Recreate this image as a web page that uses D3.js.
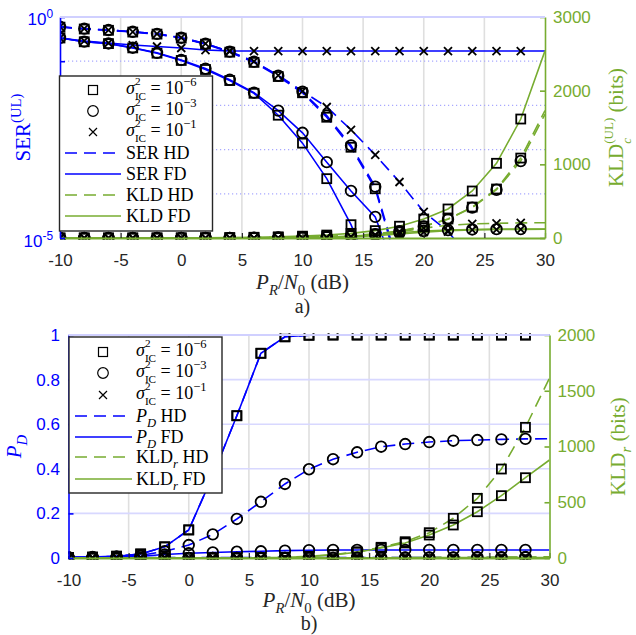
<!DOCTYPE html>
<html><head><meta charset="utf-8">
<script src="https://cdn.jsdelivr.net/npm/d3@7"></script>
<style>body{margin:0;background:#fff}</style>
</head><body><svg id="c" width="636" height="635"></svg>
<script>
// ---------------- data ----------------
const xdB = [-10,-8,-6,-4,-2,0,2,4,6,8,10,12,14,16,18,20,22,24,26,28,30];
const xTickVals = [-10,-5,0,5,10,15,20,25,30];

// Panel a) SER (UL), log axis
const serHD6 = [0.59,0.535,0.50,0.456,0.41,0.333,0.243,0.16,0.094,0.045,0.0193,0.0054,0.00113,1.3e-4,1.6e-6,1e-8,1e-8,1e-8,1e-8,1e-8,1e-8];
const serHD3 = [0.60,0.545,0.507,0.462,0.416,0.34,0.249,0.165,0.098,0.047,0.0203,0.0059,0.00124,1.45e-4,1.9e-6,1e-8,1e-8,1e-8,1e-8,1e-8,1e-8];
const serHD1 = [0.60,0.545,0.507,0.462,0.416,0.34,0.25,0.166,0.099,0.048,0.021,0.0092,0.0028,7.6e-4,1.85e-4,3.9e-5,1.4e-5,3e-6,1e-8,1e-8,1e-8];
const serFD6 = [0.335,0.275,0.25,0.2,0.152,0.104,0.065,0.0365,0.0188,0.006,0.0014,2.2e-4,2e-5,1e-6,1e-8,1e-8,1e-8,1e-8,1e-8,1e-8,1e-8];
const serFD3 = [0.336,0.277,0.252,0.202,0.155,0.107,0.068,0.038,0.0195,0.0076,0.0024,5.2e-4,1.16e-4,3e-5,1e-6,1e-8,1e-8,1e-8,1e-8,1e-8,1e-8];
const serFD1 = [0.335,0.287,0.258,0.232,0.215,0.199,0.179,0.171,0.17,0.17,0.17,0.17,0.17,0.17,0.17,0.17,0.17,0.17,0.17,0.17,0.17];
// Panel a) KLD_c (UL) in bits
const kldHD6 = [0,0,0,0,0,0,1,2,4,7,12,20,33,55,95,160,258,420,665,1085,1730];
const kldHD3 = [0,0,0,0,0,0,1,2,3,6,11,19,32,53,92,156,254,412,655,1045,1680];
const kldHD1 = [0,0,0,0,0,0,0,1,1,2,3,8,20,45,85,135,172,192,200,205,207];
const kldFD6 = [0,0,0,0,1,2,4,6,10,16,25,40,63,100,160,258,394,638,1014,1615,2540];
const kldFD3 = [0,0,0,0,0,0,1,1,2,3,5,12,25,45,72,95,108,116,120,121,122];
const kldFD1 = [0,0,0,0,0,0,0,1,1,2,3,8,15,30,55,80,100,110,115,117,118];

// Panel b) P_D
const pdHD6 = [0.002,0.004,0.008,0.018,0.05,0.126,0.37,0.638,0.918,0.992,0.999,1,1,1,1,1,1,1,1,1,1];
const pdFD6 = [0.002,0.004,0.008,0.018,0.05,0.126,0.37,0.638,0.918,0.992,0.999,1,1,1,1,1,1,1,1,1,1];
const pdHD3 = [0.002,0.003,0.006,0.012,0.03,0.058,0.106,0.175,0.252,0.332,0.398,0.443,0.474,0.499,0.511,0.52,0.526,0.529,0.532,0.534,0.535];
const pdFD3 = [0.004,0.005,0.006,0.008,0.016,0.021,0.025,0.028,0.03,0.033,0.035,0.036,0.036,0.036,0.036,0.036,0.036,0.036,0.036,0.036,0.036];
const pdHD1 = [0.002,0.002,0.002,0.002,0.002,0.002,0.002,0.002,0.002,0.002,0.002,0.002,0.002,0.002,0.002,0.002,0.002,0.002,0.002,0.002,0.002];
const pdFD1 = [0.001,0.001,0.001,0.001,0.001,0.001,0.001,0.001,0.001,0.001,0.001,0.001,0.001,0.001,0.001,0.001,0.001,0.001,0.001,0.001,0.001];
// Panel b) KLD_r in bits
const kldrHD6 = [0,0,0,0,0,0,0,1,3,6,15,30,55,96,146,227,356,535,798,1172,1614];
const kldrFD6 = [0,0,0,0,0,0,0,1,3,6,14,28,52,90,135,206,296,415,559,720,879];
const kldrHD3 = [0,0,0,0,0,0,0,0,0,0,1,1,2,3,4,5,6,7,8,9,10];
const kldrFD3 = [0,0,0,0,0,0,0,0,0,0,0,1,1,2,2,3,3,4,4,5,5];
const kldrHD1 = [0,0,0,0,0,0,0,0,0,0,0,0,1,1,1,2,2,2,3,3,3];
const kldrFD1 = [0,0,0,0,0,0,0,0,0,0,0,0,0,1,1,1,1,1,2,2,2];

const serTicks = [1,1e-1,1e-2,1e-3,1e-4,1e-5];
const kldcTicks = [0,1000,2000,3000];
const pdTicks = [0,0.2,0.4,0.6,0.8,1];
const pdTickLabels = ['0','0.2','0.4','0.6','0.8','1'];
const kldrTicks = [0,500,1000,1500,2000];

// ---------------- style ----------------
const SERIF = "'Liberation Serif','Times New Roman',serif";
const SANS = "'Liberation Sans',Arial,Helvetica,sans-serif";
const BLUE = '#0000ff', GREEN = '#77ac30', DARK = '#262626';
const NB = '\u00a0';

const svg = d3.select('#c');
const defs = svg.append('defs');

function rich(parent, segs, o) {
  const size = o.size, fam = o.family || SERIF;
  const outer = parent.append('g').attr('transform', `translate(${o.x},${o.y})` + (o.rotate ? ` rotate(${o.rotate})` : ''));
  const inner = outer.append('g');
  let cx = 0, keptW = null;
  segs.forEach(s => {
    const small = s.sup || s.sub;
    const fs = small ? size * (s.stackSmall ? 0.62 : 0.7) : size;
    const dy = s.sup ? -size * (s.stackSmall ? 0.5 : 0.42) : (s.sub ? size * (s.stackSmall ? 0.36 : 0.27) : 0);
    const t = inner.append('text').attr('x', cx).attr('y', dy)
      .attr('font-family', fam).attr('font-size', fs)
      .attr('font-style', s.it ? 'italic' : 'normal')
      .attr('fill', o.fill || '#000').text(s.t.replace(/ /g, NB));
    const w = t.node().getComputedTextLength();
    if (s.keep) { keptW = w; }
    else { cx += (keptW !== null ? Math.max(w, keptW) : w); keptW = null; }
  });
  const off = o.anchor === 'middle' ? -cx / 2 : (o.anchor === 'end' ? -cx : 0);
  inner.attr('transform', `translate(${off},0)`);
  return outer;
}

function marker(g, type, cx, cy) {
  if (type === 'sq') g.append('rect').attr('x', cx - 4.5).attr('y', cy - 4.5).attr('width', 9).attr('height', 9);
  else if (type === 'ci') g.append('circle').attr('cx', cx).attr('cy', cy).attr('r', 5.3);
  else g.append('path').attr('d', `M${cx-4},${cy-4}L${cx+4},${cy+4}M${cx-4},${cy+4}L${cx+4},${cy-4}`);
}

const DASH = '12,7';

function drawPanel(P) {
  const x = d3.scaleLinear().domain([-10, 30]).range([P.L, P.R]);
  const yl = P.yl, yr = P.yr;
  const cid = 'clip-' + P.id;
  defs.append('clipPath').attr('id', cid).append('rect')
    .attr('x', P.L).attr('y', P.T - 1.5).attr('width', P.R - P.L).attr('height', P.B - P.T + 3);

  const grid = svg.append('g');
  xTickVals.filter(v => v > -10 && v < 30).forEach(v =>
    grid.append('line').attr('x1', x(v)).attr('x2', x(v)).attr('y1', P.T).attr('y2', P.B)
      .attr('stroke', '#dfdfdf').attr('stroke-width', 1.6));
  P.hgrid.forEach(h =>
    grid.append('line').attr('x1', P.L).attr('x2', P.R).attr('y1', yl(h.v)).attr('y2', yl(h.v))
      .attr('stroke', h.dot ? '#a8a8ff' : '#d8d8ff').attr('stroke-width', h.dot ? 1.2 : 1.6)
      .attr('stroke-dasharray', h.dot ? '1.2,2.8' : null));

  const data = svg.append('g').attr('clip-path', `url(#${cid})`);
  P.series.forEach(s => {
    const ys = s.side === 'L' ? yl : yr;
    const pts = xdB.map((xv, i) => [xv, s.v[i]]);
    data.append('path').attr('d', d3.line().x(d => x(d[0])).y(d => ys(d[1]))(pts))
      .attr('fill', 'none').attr('stroke', s.color).attr('stroke-width', 1.6)
      .attr('stroke-dasharray', s.dash ? DASH : null);
  });
  const mk = data.append('g').attr('fill', 'none').attr('stroke', '#000').attr('stroke-width', 1.8);
  P.series.forEach(s => {
    const ys = s.side === 'L' ? yl : yr;
    xdB.forEach((xv, i) => { if (i < xdB.length - 1) marker(mk, s.m, x(xv), ys(s.v[i])); });
  });

  // axes
  const axB = svg.append('g').attr('transform', `translate(0,${P.B})`)
    .call(d3.axisBottom(x).tickValues(xTickVals).tickSizeInner(-5).tickSizeOuter(0).tickPadding(16).tickFormat(d => String(d)));
  axB.attr('font-family', SANS).attr('font-size', 17);
  axB.select('.domain').attr('stroke', GREEN).attr('stroke-width', 2);
  axB.selectAll('.tick line').attr('stroke', DARK).attr('stroke-width', 1.2);
  axB.selectAll('text').attr('fill', DARK);

  const axL = svg.append('g').attr('transform', `translate(${P.L},0)`)
    .call(d3.axisLeft(yl).tickValues(P.lTicks).tickSizeInner(-5).tickSizeOuter(0).tickPadding(8.5)
      .tickFormat(P.lFmt || (() => '')));
  axL.attr('font-family', SANS).attr('font-size', 17);
  axL.select('.domain').attr('stroke', BLUE).attr('stroke-width', 1.6);
  axL.selectAll('.tick line').attr('stroke', BLUE).attr('stroke-width', 1.6);
  axL.selectAll('text').attr('fill', BLUE);

  const axR = svg.append('g').attr('transform', `translate(${P.R},0)`)
    .call(d3.axisRight(yr).tickValues(P.rTicks).tickSizeInner(-5).tickSizeOuter(0).tickPadding(8)
      .tickFormat(d => String(d)));
  axR.attr('font-family', SANS).attr('font-size', 17);
  axR.select('.domain').attr('stroke', GREEN).attr('stroke-width', 1.6);
  axR.selectAll('.tick line').attr('stroke', GREEN).attr('stroke-width', 1.6);
  axR.selectAll('text').attr('fill', GREEN);

  // top border
  svg.append('line').attr('x1', P.L).attr('x2', P.R).attr('y1', P.T).attr('y2', P.T)
    .attr('stroke', '#d0d0ff').attr('stroke-width', 1.8);
  return x;
}

function legend(L) {
  const g = svg.append('g');
  g.append('rect').attr('x', L.x).attr('y', L.y).attr('width', L.w).attr('height', L.h)
    .attr('fill', '#fff').attr('stroke', DARK).attr('stroke-width', 1.4);
  L.items.forEach((it, i) => {
    const yy = L.rows[i];
    if (it.m) {
      const mg = g.append('g').attr('fill', 'none').attr('stroke', '#000').attr('stroke-width', 1.2);
      marker(mg, it.m, L.icx, yy);
    } else {
      g.append('line').attr('x1', L.lx0).attr('x2', L.lx1).attr('y1', yy).attr('y2', yy)
        .attr('stroke', it.color).attr('stroke-width', 1.6).attr('stroke-dasharray', it.dash ? DASH : null);
    }
    rich(g, it.label, { x: L.tx, y: yy + (it.m ? 4 : 6), size: 18 });
  });
}

const sigLabel = e => [{ t: 'σ', it: true }, { t: '2', sup: true, keep: true, stackSmall: true }, { t: 'IC', sub: true, stackSmall: true }, { t: ' = 10' }, { t: e, sup: true }];

// ---------------- panel a ----------------
const A = { id: 'a', L: 60, R: 545, T: 17, B: 238 };
A.yl = d3.scaleLog().domain([1e-5, 1]).range([A.B, A.T]);
A.yr = d3.scaleLinear().domain([0, 3000]).range([A.B, A.T]);
A.lTicks = serTicks; A.rTicks = kldcTicks;
A.hgrid = [1e-1, 1e-2, 1e-3, 1e-4].map(v => ({ v, dot: true }));
A.series = [
  { v: serHD6, side: 'L', color: BLUE, dash: true, m: 'sq' },
  { v: serHD3, side: 'L', color: BLUE, dash: true, m: 'ci' },
  { v: serHD1, side: 'L', color: BLUE, dash: true, m: 'x' },
  { v: serFD6, side: 'L', color: BLUE, dash: false, m: 'sq' },
  { v: serFD3, side: 'L', color: BLUE, dash: false, m: 'ci' },
  { v: serFD1, side: 'L', color: BLUE, dash: false, m: 'x' },
  { v: kldHD6, side: 'R', color: GREEN, dash: true, m: 'sq' },
  { v: kldHD3, side: 'R', color: GREEN, dash: true, m: 'ci' },
  { v: kldHD1, side: 'R', color: GREEN, dash: true, m: 'x' },
  { v: kldFD6, side: 'R', color: GREEN, dash: false, m: 'sq' },
  { v: kldFD3, side: 'R', color: GREEN, dash: false, m: 'ci' },
  { v: kldFD1, side: 'R', color: GREEN, dash: false, m: 'x' }
];
drawPanel(A);
rich(svg, [{ t: '10' }, { t: '0', sup: true }], { x: 53, y: A.yl(1) + 8, size: 17, family: SANS, fill: BLUE, anchor: 'end' });
rich(svg, [{ t: '10' }, { t: '-5', sup: true }], { x: 53, y: A.yl(1e-5) + 9, size: 17, family: SANS, fill: BLUE, anchor: 'end' });
rich(svg, [{ t: 'SER' }, { t: '(UL)', sup: true }], { x: 30, y: 127.5, size: 21, fill: BLUE, anchor: 'middle', rotate: -90 });
rich(svg, [{ t: 'KLD' }, { t: 'c', it: true, sub: true, keep: true, stackSmall: true }, { t: '(UL)', sup: true, stackSmall: true }, { t: ' (bits)' }],
  { x: 623, y: 127.5, size: 21, fill: GREEN, anchor: 'middle', rotate: -90 });
rich(svg, [{ t: 'P', it: true }, { t: 'R', it: true, sub: true }, { t: '/' }, { t: 'N', it: true }, { t: '0', sub: true }, { t: ' (dB)' }],
  { x: 302.5, y: 289, size: 21, fill: DARK, anchor: 'middle' });
rich(svg, [{ t: 'a)' }], { x: 302.5, y: 313, size: 20, fill: DARK, anchor: 'middle' });

legend({
  x: 59.5, y: 76, w: 153, h: 155, icx: 93, lx0: 65, lx1: 121, tx: 126,
  rows: [90, 111, 132, 153, 174, 195, 216],
  items: [
    { m: 'sq', label: sigLabel('−6') },
    { m: 'ci', label: sigLabel('−3') },
    { m: 'x', label: sigLabel('−1') },
    { color: BLUE, dash: true, label: [{ t: 'SER HD' }] },
    { color: BLUE, dash: false, label: [{ t: 'SER FD' }] },
    { color: GREEN, dash: true, label: [{ t: 'KLD HD' }] },
    { color: GREEN, dash: false, label: [{ t: 'KLD FD' }] }
  ]
});

// ---------------- panel b ----------------
const B = { id: 'b', L: 68.5, R: 549.5, T: 335, B: 558 };
B.yl = d3.scaleLinear().domain([0, 1]).range([B.B, B.T]);
B.yr = d3.scaleLinear().domain([0, 2000]).range([B.B, B.T]);
B.lTicks = pdTicks; B.rTicks = kldrTicks;
B.lFmt = (d, i) => pdTickLabels[i];
B.hgrid = [0.2, 0.4, 0.6, 0.8].map(v => ({ v, dot: false }));
B.series = [
  { v: pdHD6, side: 'L', color: BLUE, dash: true, m: 'sq' },
  { v: pdHD3, side: 'L', color: BLUE, dash: true, m: 'ci' },
  { v: pdHD1, side: 'L', color: BLUE, dash: true, m: 'x' },
  { v: pdFD6, side: 'L', color: BLUE, dash: false, m: 'sq' },
  { v: pdFD3, side: 'L', color: BLUE, dash: false, m: 'ci' },
  { v: pdFD1, side: 'L', color: BLUE, dash: false, m: 'x' },
  { v: kldrHD6, side: 'R', color: GREEN, dash: true, m: 'sq' },
  { v: kldrHD3, side: 'R', color: GREEN, dash: true, m: 'ci' },
  { v: kldrHD1, side: 'R', color: GREEN, dash: true, m: 'x' },
  { v: kldrFD6, side: 'R', color: GREEN, dash: false, m: 'sq' },
  { v: kldrFD3, side: 'R', color: GREEN, dash: false, m: 'ci' },
  { v: kldrFD1, side: 'R', color: GREEN, dash: false, m: 'x' }
];
drawPanel(B);
rich(svg, [{ t: 'P', it: true }, { t: 'D', it: true, sub: true }], { x: 21, y: 446.5, size: 21, fill: BLUE, anchor: 'middle', rotate: -90 });
rich(svg, [{ t: 'KLD' }, { t: 'r', it: true, sub: true }, { t: ' (bits)' }],
  { x: 625, y: 446.5, size: 21, fill: GREEN, anchor: 'middle', rotate: -90 });
rich(svg, [{ t: 'P', it: true }, { t: 'R', it: true, sub: true }, { t: '/' }, { t: 'N', it: true }, { t: '0', sub: true }, { t: ' (dB)' }],
  { x: 309, y: 607, size: 21, fill: DARK, anchor: 'middle' });
rich(svg, [{ t: 'b)' }], { x: 309, y: 630, size: 20, fill: DARK, anchor: 'middle' });

legend({
  x: 69, y: 337, w: 153, h: 156, icx: 103, lx0: 75, lx1: 132, tx: 136,
  rows: [352, 373, 395, 416, 437, 457, 479],
  items: [
    { m: 'sq', label: sigLabel('−6') },
    { m: 'ci', label: sigLabel('−3') },
    { m: 'x', label: sigLabel('−1') },
    { color: BLUE, dash: true, label: [{ t: 'P', it: true }, { t: 'D', it: true, sub: true }, { t: ' HD' }] },
    { color: BLUE, dash: false, label: [{ t: 'P', it: true }, { t: 'D', it: true, sub: true }, { t: ' FD' }] },
    { color: GREEN, dash: true, label: [{ t: 'KLD' }, { t: 'r', it: true, sub: true }, { t: ' HD' }] },
    { color: GREEN, dash: false, label: [{ t: 'KLD' }, { t: 'r', it: true, sub: true }, { t: ' FD' }] }
  ]
});
</script>
</body></html>
